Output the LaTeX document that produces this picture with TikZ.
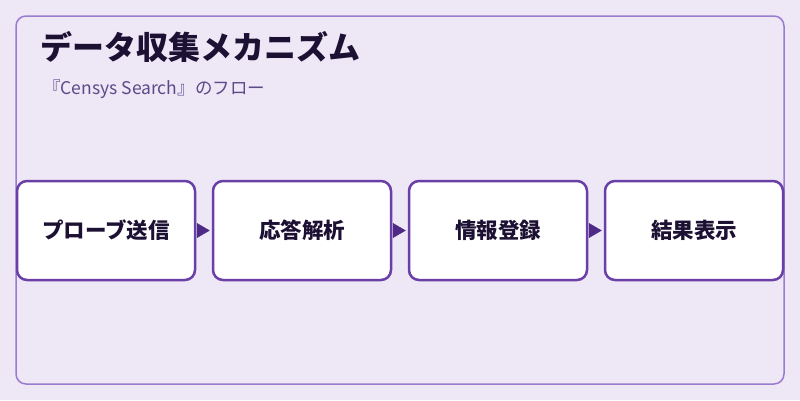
\documentclass[tikz,border=0pt]{standalone}
\usepackage{fontspec}
\setmainfont{Noto Sans CJK JP}
\usetikzlibrary{positioning,arrows.meta}
\definecolor{bgpurple}{HTML}{EDE7F6}
\definecolor{framepurple}{HTML}{9A7CCF}
\definecolor{boxpurple}{HTML}{6A3FA8}
\definecolor{arrowpurple}{HTML}{4E2A86}
\definecolor{titleink}{HTML}{1C1033}
\definecolor{subink}{HTML}{5C4A88}

\begin{document}
\begin{tikzpicture}[x=1pt,y=-1pt]
		\tikzstyle{stage}=[rectangle, rounded corners=10pt, minimum width=178pt, minimum height=99pt, line width=2.5pt, draw=boxpurple, fill=white, text=titleink, font=\fontsize{21.5}{26}\selectfont\bfseries, node distance = 15.5pt]
		\tikzstyle{connect}=[-{Triangle[length=13pt,width=15pt]}, arrowpurple, line width=0.5pt, shorten <=3pt, shorten >=2pt]
		\useasboundingbox (0,0) rectangle (800,400);
		\fill[bgpurple] (0,0) rectangle (800,400);
		\draw[framepurple, line width=1.5pt, rounded corners=10pt] (16,16) rectangle (784,384);
		\node[anchor=west, text=titleink, font=\fontsize{32}{38}\selectfont\bfseries, inner sep=0pt] (title) at (40,47) {データ収集メカニズム};
		\node[anchor=west, text=subink, font=\fontsize{17.5}{21}\selectfont, inner sep=0pt] (subtitle) at (43,89) {『Censys Search』のフロー};
		
		\node[stage] (probe) at (106,230.5) {\raisebox{-2pt}{プローブ送信}};
		\node[stage] (parse) [right=of probe] {\raisebox{-2pt}{応答解析}};
		\node[stage] (store) [right=of parse] {\raisebox{-2pt}{情報登録}};
		\node[stage] (show) [right=of store] {\raisebox{-2pt}{結果表示}};
		
		\path (probe) edge [connect] (parse);
		\path (parse) edge [connect] (store);
		\path (store) edge [connect] (show);
	\end{tikzpicture}
\end{document}
